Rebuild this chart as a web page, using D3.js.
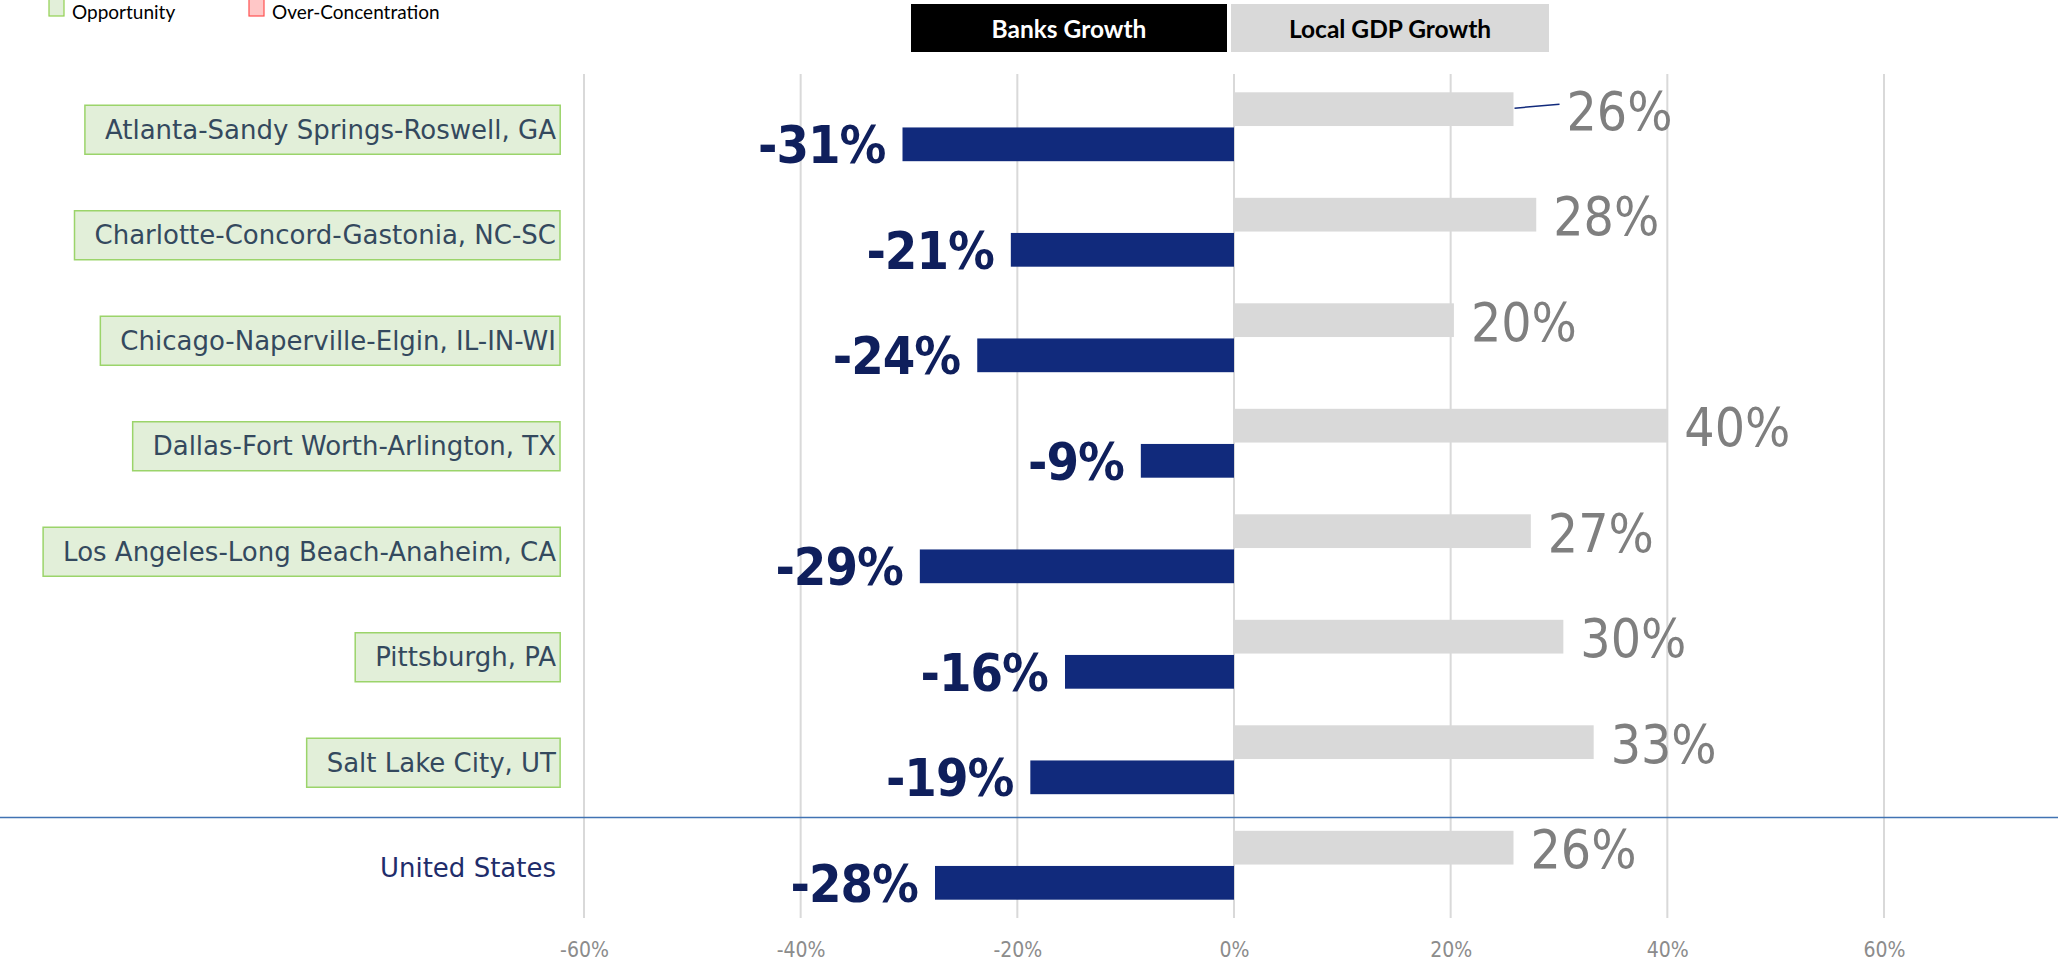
<!DOCTYPE html>
<html>
<head>
<meta charset="utf-8">
<script src="https://cdn.jsdelivr.net/npm/d3@7"></script>
<style>
  html, body { margin: 0; padding: 0; background: #fff; }
  svg { display: block; }
  .cond { font-family: 'DejaVu Sans Condensed', 'DejaVu Sans', sans-serif; font-stretch: condensed; }
</style>
</head>
<body>
<div id="chart"></div>
<script>
// categories (top to bottom)
var categories = [
	'Atlanta-Sandy Springs-Roswell, GA',
	'Charlotte-Concord-Gastonia, NC-SC',
	'Chicago-Naperville-Elgin, IL-IN-WI',
	'Dallas-Fort Worth-Arlington, TX',
	'Los Angeles-Long Beach-Anaheim, CA',
	'Pittsburgh, PA',
	'Salt Lake City, UT',
	'United States'
];
// growth in %
var banksGrowth = [-30.6, -20.6, -23.7, -8.6, -29.0, -15.6, -18.8, -27.6];
var gdpGrowth = [25.8, 27.9, 20.3, 40.0, 27.4, 30.4, 33.2, 25.8];
// categories with a green "Opportunity" box
var opportunity = [true, true, true, true, true, true, true, false];
var tickValues = [-60, -40, -20, 0, 20, 40, 60];
var seriesNames = ['Banks Growth', 'Local GDP Growth'];
var legendItems = ['Opportunity', 'Over-Concentration'];

var W = 2058, H = 963;
var blue = '#112a7c', grey = '#d9d9d9';

var data = categories.map(function(c, i) {
	return { cat: c, banks: banksGrowth[i], gdp: gdpGrowth[i], opp: opportunity[i] };
});

var svg = d3.select('#chart').append('svg')
	.attr('width', W)
	.attr('height', H);

svg.append('rect').attr('width', W).attr('height', H).attr('fill', '#fff');

var x = d3.scaleLinear().domain([-60, 60]).range([584, 1884]);
var y = d3.scaleBand().domain(categories)
	.range([74, 918])
	.paddingInner(0.347)
	.paddingOuter(0.1735);
var ys = d3.scaleBand().domain(['gdp', 'banks'])
	.range([0, y.bandwidth()])
	.paddingInner(0.04);

// plain hyphen, not the unicode minus
var fmt = function(v) { return Math.round(v) + '%'; };

// grid lines
svg.append('g').selectAll('line')
	.data(tickValues)
	.enter()
	.append('line')
	.attr('x1', function(d) { return x(d); })
	.attr('x2', function(d) { return x(d); })
	.attr('y1', y.range()[0])
	.attr('y2', y.range()[1])
	.attr('stroke', '#d9d9d9')
	.attr('stroke-width', 2);

// x axis
var xAxis = d3.axisBottom(x).tickValues(tickValues).tickSize(0).tickPadding(8)
	.tickFormat(function(d) { return d + '%'; });
svg.append('g')
	.attr('transform', 'translate(0,934)')
	.call(xAxis)
	.call(function(g) {
		g.select('.domain').remove();
		g.selectAll('.tick text')
			.attr('class', 'cond')
			.style('font-size', '21px')
			.attr('fill', '#8c8c8c');
	});

// separator above United States
var sepY = y('United States') - y.step() * y.paddingInner() / 2 + 5;
svg.append('line')
	.attr('x1', 0).attr('x2', W)
	.attr('y1', sepY).attr('y2', sepY)
	.attr('stroke', '#4173b3')
	.attr('stroke-width', 1.5);

var rows = svg.append('g').selectAll('.row')
	.data(data)
	.enter()
	.append('g')
	.attr('class', 'row')
	.attr('transform', function(d) { return 'translate(0,' + y(d.cat) + ')'; });

// gdp bars
rows.append('rect')
	.attr('x', x(0))
	.attr('y', ys('gdp'))
	.attr('width', function(d) { return x(d.gdp) - x(0); })
	.attr('height', ys.bandwidth())
	.attr('fill', grey);

// banks bars
rows.append('rect')
	.attr('x', function(d) { return x(d.banks); })
	.attr('y', ys('banks'))
	.attr('width', function(d) { return x(0) - x(d.banks); })
	.attr('height', ys.bandwidth())
	.attr('fill', blue);

// gdp labels (first one is pushed out with a leader line)
rows.append('text')
	.attr('class', 'cond')
	.attr('x', function(d, i) { return x(d.gdp) + (i === 0 ? 53 : 17); })
	.attr('y', ys('gdp') + ys.bandwidth() / 2 + 2)
	.attr('dominant-baseline', 'central')
	.style('font-size', '53px')
	.attr('fill', '#7f7f7f')
	.text(function(d) { return fmt(d.gdp); });

rows.filter(function(d, i) { return i === 0; })
	.append('line')
	.attr('x1', function(d) { return x(d.gdp) + 1; })
	.attr('x2', function(d) { return x(d.gdp) + 46; })
	.attr('y1', ys('gdp') + ys.bandwidth() / 2 - 1)
	.attr('y2', ys('gdp') + ys.bandwidth() / 2 - 5)
	.attr('stroke', blue)
	.attr('stroke-width', 1.5);

// banks labels
rows.append('text')
	.attr('class', 'cond')
	.attr('x', function(d) { return x(d.banks) - 17; })
	.attr('y', ys('banks') + ys.bandwidth() / 2 + 1)
	.attr('text-anchor', 'end')
	.attr('dominant-baseline', 'central')
	.style('font-size', '52px')
	.style('font-weight', 'bold')
	.style('letter-spacing', '-1px')
	.attr('fill', '#0f1f5c')
	.text(function(d) { return fmt(d.banks); });

// category labels
var labelRight = 556;
var catLabels = rows.append('text')
	.attr('x', labelRight)
	.attr('y', y.bandwidth() / 2 + 3)
	.attr('text-anchor', 'end')
	.attr('dominant-baseline', 'central')
	.style('font-family', "'DejaVu Sans', sans-serif")
	.style('font-size', '26px')
	.attr('fill', function(d) { return d.opp ? '#34495e' : '#1f2d6b'; })
	.text(function(d) { return d.cat; });

catLabels.each(function(d) {
	if (!d.opp) return;
	var bb = this.getBBox();
	d3.select(this.parentNode).insert('rect', 'text')
		.attr('x', bb.x - 20)
		.attr('y', y.bandwidth() / 2 + 3 - 24.5)
		.attr('width', bb.width + 24)
		.attr('height', 49)
		.attr('fill', '#e2efd9')
		.attr('stroke', '#9bd46a')
		.attr('stroke-width', 1.5);
});

// series headers
var headers = [
	{ name: seriesNames[0], x0: x(0) - 323, x1: x(0) - 7, fill: '#000', color: '#fff' },
	{ name: seriesNames[1], x0: x(0) - 3, x1: x(0) + 315, fill: grey, color: '#000' }
];
var hg = svg.append('g').selectAll('g')
	.data(headers)
	.enter()
	.append('g');
hg.append('rect')
	.attr('x', function(d) { return d.x0; })
	.attr('y', 4)
	.attr('width', function(d) { return d.x1 - d.x0; })
	.attr('height', 48)
	.attr('fill', function(d) { return d.fill; });
hg.append('text')
	.attr('x', function(d) { return (d.x0 + d.x1) / 2; })
	.attr('y', 28)
	.attr('text-anchor', 'middle')
	.attr('dominant-baseline', 'central')
	.style('font-family', 'Lato, sans-serif')
	.style('font-weight', 'bold')
	.style('font-size', '24.5px')
	.attr('fill', function(d) { return d.color; })
	.text(function(d) { return d.name; });

// legend
var legendStyle = [
	{ x: 49, fill: '#e2efd9', stroke: '#92d050' },
	{ x: 249, fill: '#ffc7c7', stroke: '#ff5050' }
];
var lg = svg.append('g').selectAll('g')
	.data(legendItems)
	.enter()
	.append('g');
lg.append('rect')
	.attr('x', function(d, i) { return legendStyle[i].x; })
	.attr('y', -1)
	.attr('width', 15)
	.attr('height', 17)
	.attr('fill', function(d, i) { return legendStyle[i].fill; })
	.attr('stroke', function(d, i) { return legendStyle[i].stroke; })
	.attr('stroke-width', 1.2);
lg.append('text')
	.attr('x', function(d, i) { return legendStyle[i].x + 23; })
	.attr('y', 19)
	.style('font-family', 'Lato, sans-serif')
	.style('font-size', '19px')
	.attr('fill', '#000')
	.text(function(d) { return d; });
</script>
</body>
</html>
